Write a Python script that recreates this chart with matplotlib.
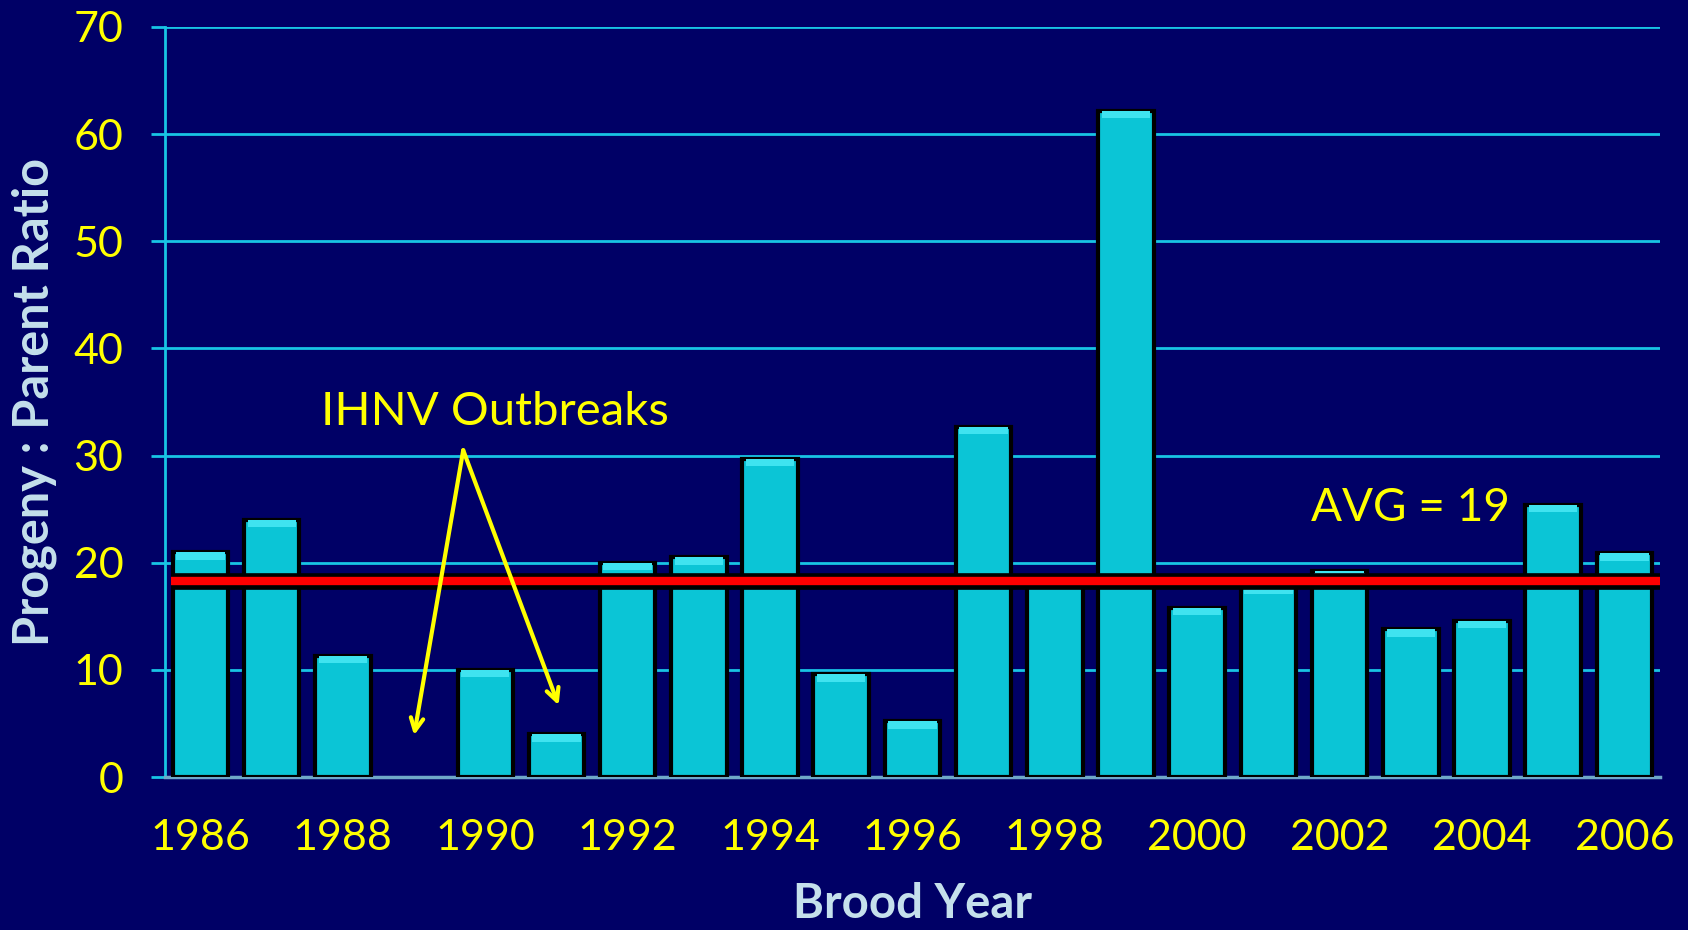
import numpy as np
import matplotlib
matplotlib.use("Agg")
import matplotlib.pyplot as plt
import matplotlib.patheffects as pe

# data
years = list(range(1986, 2007))
ratios = [21.0, 24.0, 11.3, 0.0, 10.0, 4.0, 20.0, 20.5, 29.7, 9.6, 5.2,
          32.7, 18.6, 62.2, 15.8, 17.8, 19.2, 13.8, 14.6, 25.4, 20.9]
avg_line = 18.3
tick_years = list(range(1986, 2007, 2))

BG = "#000066"
BAR = "#0BC5D6"
GRID = "#18C4E4"
YEL = "#FFFF00"
LBL = "#C5E0EC"

plt.rcParams['font.family'] = ['Lato', 'DejaVu Sans']

fig = plt.figure(figsize=(16.88, 9.30), dpi=100)
fig.patch.set_facecolor(BG)
ax = fig.add_axes([0.0977, 0.1645, 0.8857, 0.8065])
ax.set_facecolor(BG)

x = np.arange(len(years))
edges = ["black" if r > 0 else "none" for r in ratios]
ax.bar(x, ratios, width=0.78, color=BAR, edgecolor=edges, linewidth=3, zorder=3)
# lighter bevel strip on the top of each bar
ax.bar(x, [0.7 if r > 0 else 0 for r in ratios], bottom=[r - 0.7 for r in ratios],
       width=0.68, color="#3FE3F0", linewidth=0, zorder=4)

# average line with black outline
ax.plot([-0.42, 20.5], [avg_line, avg_line], color="red", lw=6, zorder=5,
        solid_capstyle="butt",
        path_effects=[pe.Stroke(linewidth=12, foreground="black"), pe.Normal()])

ax.set_xlim(-0.5, 20.5)
ax.set_ylim(0, 70)
ax.set_yticks(range(0, 71, 10))
ax.set_xticks([years.index(t) for t in tick_years])
ax.set_xticklabels([str(t) for t in tick_years])

ax.grid(axis="y", color=GRID, lw=2, zorder=1)
ax.set_axisbelow(True)
for s in ["top", "right"]:
    ax.spines[s].set_visible(False)
ax.spines["left"].set_color(GRID)
ax.spines["left"].set_linewidth(2)
ax.spines["bottom"].set_color("#6FA8C8")
ax.spines["bottom"].set_linewidth(2.5)

ax.tick_params(axis="y", colors=GRID, labelcolor=YEL, labelsize=31, length=10, width=2, pad=20)
ax.tick_params(axis="x", labelcolor=YEL, labelsize=31, length=0, pad=30)

ax.set_ylabel("Progeny : Parent Ratio", color=LBL, fontsize=35, fontweight="bold", labelpad=12)
ax.set_xlabel("Brood Year", color=LBL, fontsize=34, fontweight="bold", labelpad=18)

# annotations
ax.text(4.13, 34.1, "IHNV Outbreaks", color=YEL, fontsize=34, ha="center", va="center", zorder=6)
apex = (3.69, 30.5)
for tip in [(3.0, 3.9), (5.03, 6.7)]:
    ax.annotate("", xy=tip, xytext=apex, zorder=6,
                arrowprops=dict(arrowstyle="->,head_length=0.9,head_width=0.45",
                                color=YEL, lw=3, shrinkA=0, shrinkB=0))
ax.text(17.0, 25.1, "AVG = 19", color=YEL, fontsize=33, ha="center", va="center", zorder=6)

fig.savefig("out.png", dpi=100, facecolor=BG)
